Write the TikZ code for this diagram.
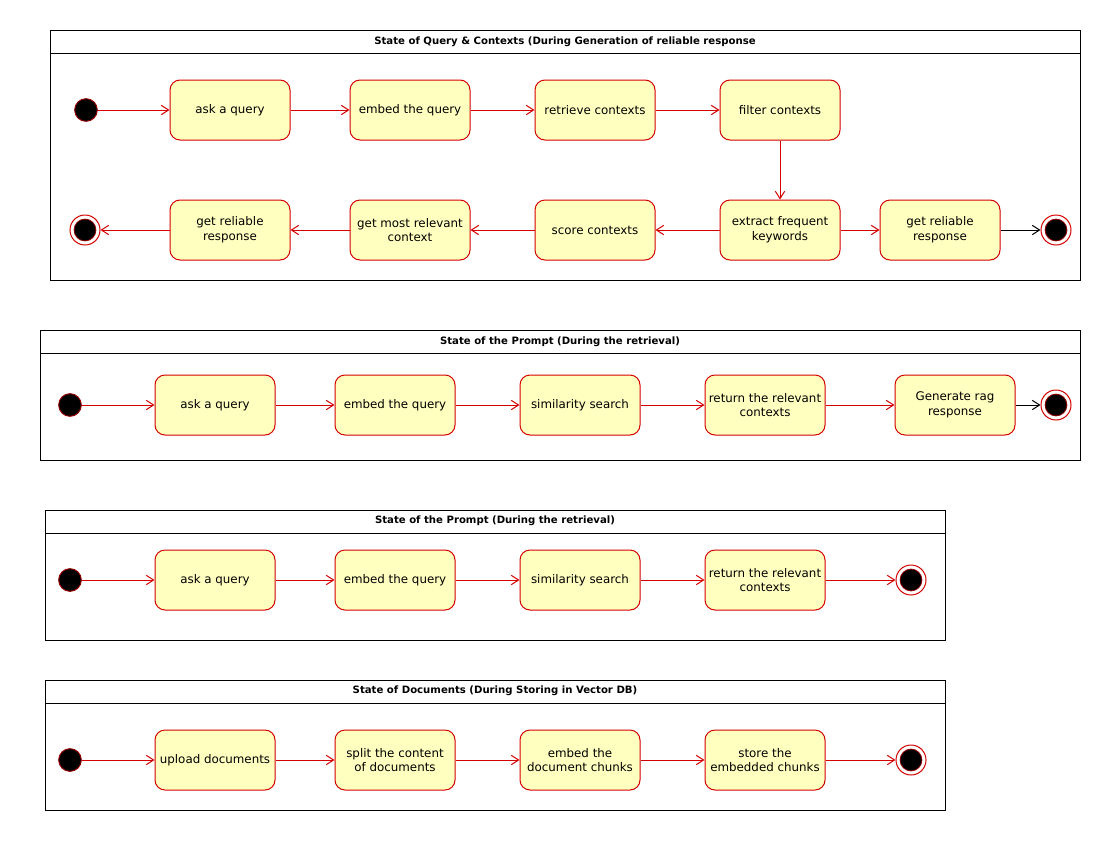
\documentclass[tikz,border=0pt]{standalone}
\usepackage{fontspec}
\setmainfont{DejaVu Sans}
\usetikzlibrary{arrows.meta}
\definecolor{stred}{HTML}{D40000}
\definecolor{stfill}{HTML}{FFFFC0}
\tikzset{
  px/.style={x=0.75pt,y=-0.75pt},
  panel/.style={draw=black,line width=0.75pt},
  ptitle/.style={font=\bfseries\fontsize{7.6pt}{9pt}\selectfont,inner sep=0pt},
  state/.style={draw=stred,fill=stfill,line width=0.75pt,rounded corners=7.5pt,
    minimum width=90pt,minimum height=45pt,align=center,inner sep=1pt,
    font=\fontsize{8.9pt}{11pt}\selectfont},
  initial/.style={circle,draw=stred!70!black,fill=black,line width=0.75pt,
    minimum size=17pt,inner sep=0pt},
  final/.style={circle,draw=stred,fill=white,line width=0.75pt,
    minimum size=22.5pt,inner sep=0pt,
    path picture={\fill[draw=stred!70!black,fill=black,line width=0.6pt]
      (path picture bounding box.center) circle (8.2pt);}},
  flow/.style={draw=stred,line width=0.75pt,-{Straight Barb[length=5.5pt,width=7pt]}},
  blackflow/.style={draw=black,line width=0.75pt,-{Straight Barb[length=5.5pt,width=7pt]}},
}
\begin{document}
\begin{tikzpicture}[px]
\useasboundingbox (0,0) rectangle (1100,850);

% ---- Query & contexts during generation ----
\draw[panel] (50,30) rectangle (1080,280);
\draw[panel] (50,53) -- (1080,53);
\node[ptitle] (t1) at (565,42) {State of Query \& Contexts (During Generation of reliable response};

\node[initial] (a0) at (86,110) {};
\node[state] (a1) at (230,110) {ask a query};
\node[state] (a2) at (410,110) {embed the query};
\node[state] (a3) at (595,110) {retrieve contexts};
\node[state] (a4) at (780,110) {filter contexts};
\node[state] (a5) at (780,230) {extract frequent\\keywords};
\node[state] (a6) at (595,230) {score contexts};
\node[state] (a7) at (410,230) {get most relevant\\context};
\node[state] (a8) at (230,230) {get reliable\\response};
\node[final] (a9) at (85,230) {};
\node[state] (a10) at (940,230) {get reliable\\response};
\node[final] (a11) at (1056,230) {};

\draw[flow] (a0) -- (a1);
\draw[flow] (a1) -- (a2);
\draw[flow] (a2) -- (a3);
\draw[flow] (a3) -- (a4);
\draw[flow] (a4) -- (a5);
\draw[flow] (a5) -- (a6);
\draw[flow] (a6) -- (a7);
\draw[flow] (a7) -- (a8);
\draw[flow] (a8) -- (a9);
\draw[flow] (a5) -- (a10);
\draw[blackflow] (a10) -- (a11);

% ---- Prompt during retrieval, with generation ----
\draw[panel] (40,330) rectangle (1080,460);
\draw[panel] (40,353) -- (1080,353);
\node[ptitle] (t2) at (560,342) {State of the Prompt (During the retrieval)};

\node[initial] (b0) at (70,405) {};
\node[state] (b1) at (215,405) {ask a query};
\node[state] (b2) at (395,405) {embed the query};
\node[state] (b3) at (580,405) {similarity search};
\node[state] (b4) at (765,405) {return the relevant\\contexts};
\node[state] (b5) at (955,405) {Generate rag\\response};
\node[final] (b6) at (1056,405) {};

\draw[flow] (b0) -- (b1);
\draw[flow] (b1) -- (b2);
\draw[flow] (b2) -- (b3);
\draw[flow] (b3) -- (b4);
\draw[flow] (b4) -- (b5);
\draw[blackflow] (b5) -- (b6);

% ---- Prompt during retrieval ----
\draw[panel] (45,510) rectangle (945,640);
\draw[panel] (45,533) -- (945,533);
\node[ptitle] (t3) at (495,521) {State of the Prompt (During the retrieval)};

\node[initial] (c0) at (70,580) {};
\node[state] (c1) at (215,580) {ask a query};
\node[state] (c2) at (395,580) {embed the query};
\node[state] (c3) at (580,580) {similarity search};
\node[state] (c4) at (765,580) {return the relevant\\contexts};
\node[final] (c5) at (911,580) {};

\draw[flow] (c0) -- (c1);
\draw[flow] (c1) -- (c2);
\draw[flow] (c2) -- (c3);
\draw[flow] (c3) -- (c4);
\draw[flow] (c4) -- (c5);

% ---- Documents during storing ----
\draw[panel] (45,680) rectangle (945,810);
\draw[panel] (45,703) -- (945,703);
\node[ptitle] (t4) at (495,691) {State of Documents (During Storing in Vector DB)};

\node[initial] (d0) at (70,760) {};
\node[state] (d1) at (215,760) {upload documents};
\node[state] (d2) at (395,760) {split the content\\of documents};
\node[state] (d3) at (580,760) {embed the\\document chunks};
\node[state] (d4) at (765,760) {store the\\embedded chunks};
\node[final] (d5) at (911,760) {};

\draw[flow] (d0) -- (d1);
\draw[flow] (d1) -- (d2);
\draw[flow] (d2) -- (d3);
\draw[flow] (d3) -- (d4);
\draw[flow] (d4) -- (d5);
\end{tikzpicture}
\end{document}
